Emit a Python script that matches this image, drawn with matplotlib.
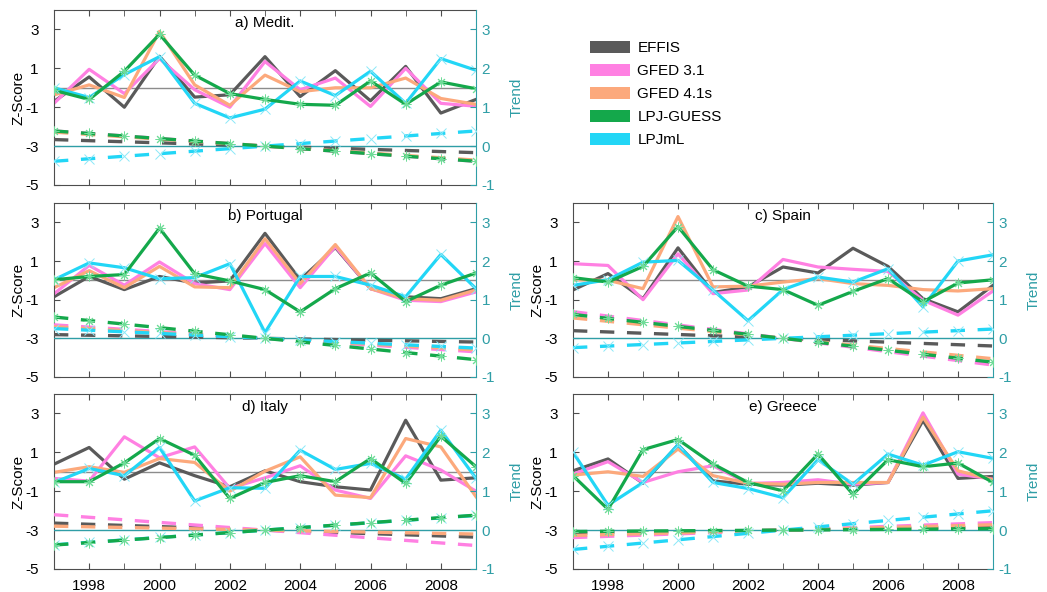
"""Z-score of burned area over the Mediterranean with linear trends."""

import matplotlib

matplotlib.use("Agg")
import matplotlib.pyplot as plt
import numpy as np
from matplotlib.patches import Patch

plt.rcParams["font.family"] = ["Liberation Sans", "DejaVu Sans"]
plt.rcParams["axes.unicode_minus"] = False

YEARS = list(range(1997, 2010))
SERIES = ["EFFIS", "GFED 3.1", "GFED 4.1s", "LPJ-GUESS", "LPJmL"]
COLORS = ["#5a5a5a", "#ff80e2", "#fca97c", "#14a84b", "#22d6f6"]
MARKERS = [None, None, None, (8, 2, 0), "x"]
MARKER_COLORS = [None, None, None, "#6fdc98", "#8ae8f8"]
DRAW_ORDER = [0, 1, 2, 4, 3]
TEAL = "#2f9ea6"

TITLES = ["a) Medit.", "b) Portugal", "c) Spain", "d) Italy", "e) Greece"]

# a) Mediterranean
MEDIT_EFFIS = [-0.7, 0.56, -1.0, 1.62, -0.48, -0.36, 1.6, -0.45, 0.88, -0.67, 1.1, -1.3, -0.6]
MEDIT_GFED31 = [-0.8, 0.95, -0.3, 1.5, -0.1, -1.0, 1.35, -0.1, 0.5, -0.96, 1.0, -0.8, -0.95]
MEDIT_GFED41 = [-0.37, 0.15, -0.5, 2.9, 0.15, -0.9, 0.65, -0.2, 0.0, 0.0, 0.5, -0.55, -0.85]
MEDIT_LPJG = [-0.13, -0.6, 0.85, 2.75, 0.65, -0.3, -0.6, -0.85, -0.9, 0.35, -0.85, 0.3, -0.05]
MEDIT_LPJML = [0.0, -0.5, 0.68, 1.6, -0.8, -1.55, -1.1, 0.35, -0.4, 0.85, -0.8, 1.5, 0.9]
MEDIT_TREND = [-0.028, -0.065, -0.06, -0.065, 0.065]  # trend per year

# b) Portugal
PORT_EFFIS = [-0.85, 0.2, -0.48, 0.2, -0.14, -0.03, 2.43, 0.03, 1.7, -0.43, -0.85, -0.95, -0.43]
PORT_GFED31 = [-0.7, 0.77, -0.25, 0.95, -0.17, -0.48, 1.9, -0.38, 1.75, -0.43, -1.03, -1.1, -0.6]
PORT_GFED41 = [-0.38, 0.5, -0.38, 0.72, -0.34, -0.38, 2.15, -0.17, 1.85, -0.43, -0.95, -1.03, -0.5]
PORT_LPJG = [0.03, 0.2, 0.3, 2.7, 0.34, -0.03, -0.48, -1.63, -0.43, 0.38, -1.1, -0.25, 0.38]
PORT_LPJML = [0.03, 0.9, 0.65, 0.08, 0.14, 0.86, -2.7, 0.2, 0.2, -0.25, -0.85, 1.34, -0.43]
PORT_TREND = [-0.016, -0.058, -0.05, -0.092, -0.042]

# c) Spain
SPAIN_EFFIS = [-0.5, 0.35, -0.95, 1.68, -0.63, -0.34, 0.69, 0.38, 1.66, 0.72, -0.95, -1.63, -0.26]
SPAIN_GFED31 = [0.86, 0.77, -1.0, 1.37, -0.69, -0.5, 1.08, 0.69, 0.57, 0.46, -1.03, -1.8, -0.55]
SPAIN_GFED41 = [0.03, 0.0, -0.43, 3.3, -0.34, -0.3, -0.09, 0.09, -0.17, -0.26, -0.48, -0.55, -0.43]
SPAIN_LPJG = [0.14, -0.09, 0.72, 2.78, 0.55, -0.3, -0.48, -1.29, -0.57, 0.09, -1.11, -0.14, 0.03]
SPAIN_LPJML = [-0.26, 0.03, 0.94, 1.03, -0.5, -2.09, -0.48, 0.17, -0.09, 0.6, -1.37, 1.0, 1.32]
SPAIN_TREND = [-0.033, -0.115, -0.088, -0.103, 0.04]

# d) Italy
ITALY_EFFIS = [0.39, 1.25, -0.38, 0.46, -0.2, -0.77, 0.05, -0.51, -0.77, -0.94, 2.65, -0.43, -0.31]
ITALY_GFED31 = [-0.34, -0.48, 1.8, 0.72, 1.28, -0.85, -0.31, 0.31, -0.94, -1.37, 0.82, 0.09, -1.0]
ITALY_GFED41 = [-0.03, 0.26, -0.03, 0.68, 0.48, -1.0, 0.03, 0.77, -1.2, -1.33, 1.71, 1.28, -1.28]
ITALY_LPJG = [-0.51, -0.51, 0.46, 1.71, 0.85, -1.37, -0.55, -0.2, -0.51, 0.68, -0.6, 1.83, 0.26]
ITALY_LPJML = [-0.55, 0.17, -0.2, 1.25, -1.5, -0.82, -0.85, 1.11, 0.12, 0.43, -0.38, 2.14, -0.34]
ITALY_TREND = [-0.03, -0.066, -0.017, 0.064, 0.063]

# e) Greece
GREECE_EFFIS = [0.05, 0.66, -0.59, 1.38, -0.47, -0.64, -0.69, -0.59, -0.69, -0.55, 2.64, -0.34, -0.24]
GREECE_GFED31 = [-0.12, 0.52, -0.55, 0.0, 0.31, -0.6, -0.55, -0.41, -0.64, -0.55, 3.03, -0.12, -0.38]
GREECE_GFED41 = [-0.17, 0.0, -0.24, 1.17, -0.2, -0.59, -0.64, -0.55, -0.55, -0.55, 2.81, 0.05, -0.41]
GREECE_LPJG = [-0.2, -1.93, 1.14, 1.66, 0.4, -0.55, -0.98, 0.91, -1.16, 0.62, 0.26, 0.45, -0.55]
GREECE_LPJML = [1.0, -1.72, -0.55, 1.38, -0.55, -0.86, -1.33, 0.62, -0.64, 0.91, 0.34, 1.03, 0.69]
GREECE_TREND = [0.013, 0.032, 0.023, 0.006, 0.083]

PANEL_DATA = [
    [MEDIT_EFFIS, MEDIT_GFED31, MEDIT_GFED41, MEDIT_LPJG, MEDIT_LPJML],
    [PORT_EFFIS, PORT_GFED31, PORT_GFED41, PORT_LPJG, PORT_LPJML],
    [SPAIN_EFFIS, SPAIN_GFED31, SPAIN_GFED41, SPAIN_LPJG, SPAIN_LPJML],
    [ITALY_EFFIS, ITALY_GFED31, ITALY_GFED41, ITALY_LPJG, ITALY_LPJML],
    [GREECE_EFFIS, GREECE_GFED31, GREECE_GFED41, GREECE_LPJG, GREECE_LPJML],
]
PANEL_TRENDS = [MEDIT_TREND, PORT_TREND, SPAIN_TREND, ITALY_TREND, GREECE_TREND]
TREND_CENTER = 2003

W, H = 1047, 592


def rect(left, top, right, bottom):
    return [left / W, 1 - bottom / H, (right - left) / W, (bottom - top) / H]


PANEL_RECTS = [
    rect(54, 10, 476, 185),
    rect(54, 203, 476, 377),
    rect(573, 203, 993, 377),
    rect(54, 394, 476, 569),
    rect(573, 394, 993, 569),
]
SHOW_YEARS = [False, False, False, True, True]


def draw_panel(fig, box, title, data, slopes, show_years):
    ax = fig.add_axes(box)
    ax2 = ax.twinx()
    x = np.array(YEARS, dtype=float)
    width_px = box[2] * W

    ax.axhline(0, color="#8c8c8c", lw=1.0, zorder=1)
    for i in DRAW_ORDER:
        z = data[i]
        ax.plot(x, z, color=COLORS[i], lw=2.3, zorder=2)
        if MARKERS[i] is not None:
            ax.plot(x, z, ls="none", marker=MARKERS[i], ms=7, mew=0.7,
                    color=MARKER_COLORS[i], zorder=3)

    # linear trend lines on the right axis
    ax2.axhline(0, color=TEAL, lw=1.0, zorder=1)
    for i in DRAW_ORDER:
        trend = slopes[i] * (x - TREND_CENTER)
        ax2.plot(x, trend, color=COLORS[i], lw=2.4, dashes=(4.3, 3.8), zorder=2)
        if MARKERS[i] is not None:
            ax2.plot(x, trend, ls="none", marker=MARKERS[i], ms=7, mew=0.7,
                     color=MARKER_COLORS[i], zorder=3)

    ax.set_xlim(1997, 2009)
    ax.set_ylim(-5, 4)
    ax2.set_ylim(-1, 3.5)
    ax.set_yticks([-5, -3, -1, 1, 3])
    ax2.set_yticks([-1, 0, 1, 2, 3])
    ax.set_xticks(range(1998, 2009, 2))
    ax.set_xticks(range(1997, 2010, 2), minor=True)

    for name in ("top", "bottom", "left"):
        ax.spines[name].set_color("#4d4d4d")
        ax.spines[name].set_linewidth(0.8)
        ax2.spines[name].set_visible(False)
    ax.spines["right"].set_visible(False)
    ax2.spines["right"].set_color(TEAL)
    ax2.spines["right"].set_linewidth(0.8)

    ax.tick_params(axis="x", which="both", direction="in", top=True, length=4,
                   color="#4d4d4d", labelsize=11, pad=7, labelbottom=show_years)
    ax.tick_params(axis="y", direction="in", length=4, color="#4d4d4d",
                   labelsize=11, pad=11, right=False)
    ax2.tick_params(axis="y", direction="in", length=4, colors=TEAL,
                    labelsize=11, pad=4)

    ax.set_ylabel("Z-Score", fontsize=11)
    ax.yaxis.set_label_coords(-28 / width_px, 0.5)
    ax2.set_ylabel("Trend", fontsize=11, color=TEAL)
    ax2.yaxis.set_label_coords(1 + 34 / width_px, 0.5)
    ax.text(0.5, 0.926, title, transform=ax.transAxes, ha="center", va="center",
            fontsize=11)


def main():
    fig = plt.figure(figsize=(W / 100, H / 100), dpi=100)
    for box, title, data, slopes, show in zip(PANEL_RECTS, TITLES, PANEL_DATA,
                                              PANEL_TRENDS, SHOW_YEARS):
        draw_panel(fig, box, title, data, slopes, show)

    handles = [Patch(facecolor=c, edgecolor="none") for c in COLORS]
    fig.legend(handles, SERIES, loc="upper left", bbox_to_anchor=(590 / W, 1 - 41 / H),
               frameon=False, fontsize=11, handlelength=2.6, handleheight=0.8,
               handletextpad=0.5, labelspacing=0.58, borderpad=0, borderaxespad=0)

    fig.savefig("out.png", dpi=100)


if __name__ == "__main__":
    main()
